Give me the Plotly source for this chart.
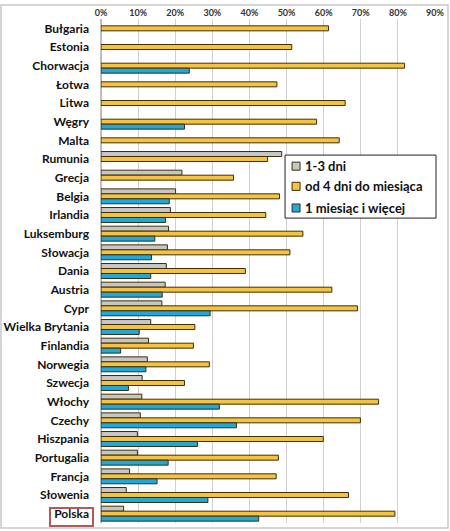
import plotly.graph_objects as go

# kraje od gory do dolu
kraje = ["Bułgaria", "Estonia", "Chorwacja", "Łotwa", "Litwa", "Węgry", "Malta",
         "Rumunia", "Grecja", "Belgia", "Irlandia", "Luksemburg", "Słowacja",
         "Dania", "Austria", "Cypr", "Wielka Brytania", "Finlandia", "Norwegia",
         "Szwecja", "Włochy", "Czechy", "Hiszpania", "Portugalia", "Francja",
         "Słowenia", "Polska"]

dni_1_3 = [None, None, None, None, None, None, None,
           0.487, 0.218, 0.201, 0.187, 0.182, 0.179,
           0.176, 0.173, 0.164, 0.134, 0.128, 0.125,
           0.111, 0.110, 0.106, 0.098, 0.098, 0.077,
           0.068, 0.061]

dni_4_do_miesiaca = [0.613, 0.514, 0.818, 0.474, 0.658, 0.581, 0.642,
                     0.449, 0.357, 0.481, 0.444, 0.544, 0.509,
                     0.389, 0.622, 0.691, 0.253, 0.249, 0.292,
                     0.225, 0.748, 0.699, 0.599, 0.478, 0.472,
                     0.667, 0.792]

miesiac_i_wiecej = [None, None, 0.238, None, None, 0.225, None,
                    None, None, 0.184, 0.174, 0.145, 0.136,
                    0.134, 0.165, 0.294, 0.103, 0.053, 0.121,
                    0.074, 0.319, 0.365, 0.260, 0.181, 0.151,
                    0.288, 0.425]

seria = [
    ("1-3 dni", dni_1_3, "#c6c6c6"),
    ("od 4 dni do miesiąca", dni_4_do_miesiaca, "#f6c340"),
    ("1 miesiąc i więcej", miesiac_i_wiecej, "#1ea8dd"),
]

OBRYS = "#3d2f08"

fig = go.Figure()
for nazwa, wartosci, kolor in seria:
    fig.add_trace(go.Bar(
        y=kraje, x=wartosci, name=nazwa, orientation="h",
        marker=dict(color=kolor, line=dict(color=OBRYS, width=1)),
    ))

fig.update_layout(
    width=450, height=531,
    margin=dict(l=101, r=15, t=19, b=8),
    paper_bgcolor="white", plot_bgcolor="white",
    barmode="group", bargap=0.2, bargroupgap=0,
    font=dict(family="Lato", color="#1a1a1a"),
    showlegend=False,
    xaxis=dict(
        side="top", range=[0, 0.9], dtick=0.1, tickformat=".0%",
        showgrid=True, gridcolor="#d0d0d0", gridwidth=1,
        zeroline=True, zerolinecolor="#bdbdbd", ticks="",
        automargin=False,
        tickfont=dict(size=9, family="Lato", weight="bold", color="#333333"),
    ),
    yaxis=dict(
        autorange="reversed", ticks="", showgrid=False,
        automargin=False, ticklabelstandoff=11,
        tickfont=dict(size=12, family="Lato", weight="bold", color="#111111"),
    ),
)

# legenda rysowana recznie (ramka, kwadraciki, podpisy)
fig.add_shape(type="rect", xref="paper", yref="paper",
              x0=0.551, x1=1.003, y0=0.605, y1=0.730,
              fillcolor="white", line=dict(color="#222222", width=1), layer="above")
rzedy = [0.708, 0.668, 0.625]
for (nazwa, _, kolor), yc in zip(seria, rzedy):
    fig.add_shape(type="rect", xref="paper", yref="paper",
                  x0=0.572, x1=0.596, y0=yc - 0.008, y1=yc + 0.008,
                  fillcolor=kolor, line=dict(color=OBRYS, width=1), layer="above")
    fig.add_annotation(x=0.605, y=yc, xref="paper", yref="paper",
                       text=nazwa, showarrow=False, xanchor="left", yanchor="middle",
                       font=dict(size=13, family="Lato", weight="bold", color="#111111"))

# ramka wokol wykresu
fig.add_shape(type="rect", xref="paper", yref="paper",
              x0=-100 / 334, x1=347 / 334, y0=-5 / 504, y1=518 / 504,
              line=dict(color="#c8c8c8", width=1.5))

# obwodka przy Polsce
fig.add_shape(type="rect", xref="paper", yref="paper",
              x0=-0.1527, x1=-0.024, y0=-0.006, y1=0.0298,
              line=dict(color="#b05a5a", width=2))

fig.write_html("out.html", config={"displayModeBar": False},
               post_script="document.body.style.margin='0';")
